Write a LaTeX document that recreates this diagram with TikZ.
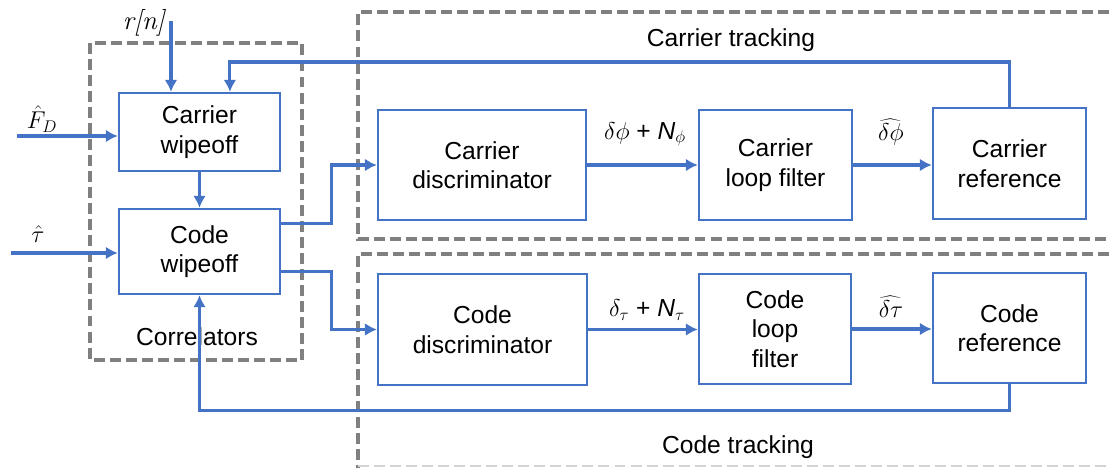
\documentclass[tikz,border=0pt]{standalone}
\usepackage{fontspec}
\setsansfont{Liberation Sans}
\usetikzlibrary{arrows.meta,positioning,calc}

\definecolor{loopblue}{RGB}{68,114,196}
\definecolor{groupgray}{RGB}{128,128,128}

\begin{document}
\begin{tikzpicture}[x=0.025cm, y=-0.025cm, >={Latex[length=3mm,width=3.2mm]},
  every node/.style={font=\sffamily\fontsize{17.5}{21}\selectfont},
  blk/.style={draw=loopblue, line width=1.6pt, align=center, inner sep=0pt},
  flow/.style={->, draw=loopblue, line width=2.2pt},
  group/.style={draw=groupgray, line width=2.3pt, dash pattern=on 7.8pt off 3.6pt}]

  \useasboundingbox (0,0) rectangle (1109,468);

  % 破線のグループ枠
  \draw[group] (90,43) rectangle (302,360);
  \draw[group] (1109,12) -- (358,12) -- (358,239) -- (1109,239);
  \draw[group] (1109,254) -- (358,254) -- (358,468);
  \draw[group, draw=groupgray!35, line width=1pt] (358,466) -- (1109,466);

  \node at (197,337) {Correlators};
  \node at (731,40) {Carrier tracking};
  \node at (738,447) {Code tracking};

  % ブロック
  \node[blk, minimum width=4.03cm, minimum height=1.95cm] (carrwipe) at (199.5,132) {Carrier\\wipeoff};
  \node[blk, minimum width=4.03cm, minimum height=2.13cm] (codewipe) at (199.5,251.5) {Code\\wipeoff};
  \node[blk, minimum width=5.2cm, minimum height=2.75cm] (carrdisc) at (482,165) {Carrier\\discriminator};
  \node[blk, minimum width=3.83cm, minimum height=2.75cm] (carrfilt) at (775.5,165) {Carrier\\loop filter};
  \node[blk, minimum width=3.83cm, minimum height=2.77cm] (carrref) at (1009.5,163.5) {Carrier\\reference};
  \node[blk, minimum width=5.22cm, minimum height=2.77cm] (codedisc) at (482.5,329.5) {Code\\discriminator};
  \node[blk, minimum width=3.8cm, minimum height=2.75cm] (codefilt) at (775,329) {Code\\loop\\filter};
  \node[blk, minimum width=3.83cm, minimum height=2.75cm] (coderef) at (1009.5,328) {Code\\reference};

  % 入力
  \coordinate (rin) at (171,21);
  \coordinate (fdin) at (17,136);
  \coordinate (tauin) at (11,253);
  \draw[flow] (rin) -- (rin |- carrwipe.north);
  \draw[flow] (fdin) -- (fdin -| carrwipe.west);
  \draw[flow] (tauin) -- (tauin -| codewipe.west);
  \node[anchor=east, inner sep=0pt] at (165,23) {\rmfamily\itshape\fontsize{19}{21}\selectfont r[n]};
  \node at (42,119) {$\hat{F}_D$};
  \node at (38,234) {$\hat{\tau}$};

  % 相関器の出力
  \draw[flow] (carrwipe) -- (codewipe);
  \draw[flow] ([yshift=0.71cm]codewipe.east) -- ++(50,0) |- (carrdisc.west);
  \draw[flow] ([yshift=-0.49cm]codewipe.east) -- ++(50,0) |- (codedisc.west);

  % キャリア追尾ループ
  \draw[flow] (carrdisc) -- (carrfilt);
  \draw[flow] (carrfilt.east) -- (carrfilt.east -| carrref.west);
  \node at (645,134) {$\delta\phi$ + $\textsf{\textit{N}}_{\phi}$};
  \node at (891,132) {$\widehat{\delta\phi}$};
  \draw[flow] (carrref.north) -- ++(0,-45) -| ([xshift=0.76cm]carrwipe.north);

  % コード追尾ループ
  \draw[flow] (codedisc.east) -- (codedisc.east -| codefilt.west);
  \draw[flow] (codefilt.east) -- (codefilt.east -| coderef.west);
  \node at (647,310) {$\delta_{\tau}$ + $\textsf{\textit{N}}_{\tau}$};
  \node at (891,307) {$\widehat{\delta\tau}$};
  \draw[flow] (coderef.south) -- ++(0,26) -| (codewipe.south);

\end{tikzpicture}
\end{document}
